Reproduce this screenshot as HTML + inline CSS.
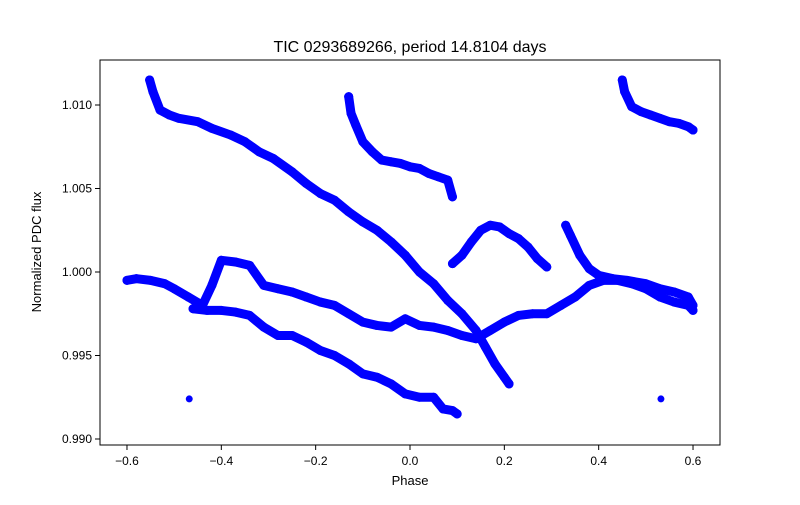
<!DOCTYPE html>
<html><head><meta charset="utf-8"><style>
body{margin:0;background:#fff}
svg text{font-family:"Liberation Sans","DejaVu Sans",sans-serif}
</style></head><body>
<svg id="chart" width="800" height="500">
<rect width="800" height="500" fill="#fff"/>
<text x="410" y="52" font-size="16" text-anchor="middle">TIC 0293689266, period 14.8104 days</text>
<g id="marks"></g>
<rect x="100" y="60" width="620" height="385" fill="none" stroke="#000" stroke-width="1"/>
<g id="axes"></g>
<text x="410" y="485" font-size="13" text-anchor="middle">Phase</text>
<text transform="translate(41,252) rotate(-90)" font-size="13" text-anchor="middle">Normalized PDC flux</text>
</svg>
<script>
const xTicks=[-0.6,-0.4,-0.2,0.0,0.2,0.4,0.6];
const xTickLabels=["−0.6","−0.4","−0.2","0.0","0.2","0.4","0.6"];
const yTicks=[0.990,0.995,1.000,1.005,1.010];
const yTickLabels=["0.990","0.995","1.000","1.005","1.010"];
const seg1Phase=[-0.552,-0.545,-0.53,-0.51,-0.49,-0.45,-0.42,-0.38,-0.35,-0.32,-0.29,-0.25,-0.22,-0.19,-0.16,-0.13,-0.1,-0.07,-0.04,-0.01,0.02,0.05,0.08,0.11,0.14,0.16,0.18,0.2,0.21];
const seg1Flux=[1.0115,1.0108,1.0097,1.0094,1.0092,1.009,1.0086,1.0082,1.0078,1.0072,1.0068,1.006,1.0053,1.0047,1.0043,1.0036,1.003,1.0025,1.0018,1.001,1.0,0.9993,0.9983,0.9975,0.9965,0.9955,0.9945,0.9937,0.9933];
const seg2Phase=[-0.13,-0.125,-0.115,-0.1,-0.08,-0.06,-0.04,-0.02,0.0,0.02,0.04,0.06,0.08,0.09];
const seg2Flux=[1.0105,1.0095,1.0088,1.0078,1.0072,1.0067,1.0066,1.0065,1.0063,1.0062,1.0059,1.0057,1.0055,1.0045];
const seg3Phase=[0.09,0.11,0.13,0.15,0.17,0.19,0.21,0.23,0.25,0.27,0.29];
const seg3Flux=[1.0005,1.001,1.0018,1.0025,1.0028,1.0027,1.0023,1.002,1.0015,1.0008,1.0003];
const seg4Phase=[0.33,0.34,0.36,0.38,0.4,0.43,0.46,0.5,0.53,0.56,0.59,0.6];
const seg4Flux=[1.0028,1.0022,1.001,1.0002,0.9998,0.9996,0.9995,0.9993,0.999,0.9988,0.9985,0.998];
const seg5Phase=[-0.6,-0.58,-0.55,-0.52,-0.5,-0.47,-0.44,-0.42,-0.4,-0.37,-0.34,-0.31,-0.28,-0.25,-0.22,-0.19,-0.16,-0.13,-0.1,-0.07,-0.04,-0.01,0.02,0.05,0.08,0.11,0.14,0.17,0.2,0.23,0.26,0.29,0.32,0.35,0.38,0.41,0.44,0.47,0.5,0.53,0.56,0.59,0.6];
const seg5Flux=[0.9995,0.9996,0.9995,0.9993,0.999,0.9985,0.998,0.9992,1.0007,1.0006,1.0004,0.9992,0.999,0.9988,0.9985,0.9982,0.998,0.9975,0.997,0.9968,0.9967,0.9972,0.9968,0.9967,0.9965,0.9962,0.996,0.9965,0.997,0.9974,0.9975,0.9975,0.998,0.9985,0.9992,0.9995,0.9995,0.9993,0.999,0.9985,0.9982,0.998,0.9977];
const seg6Phase=[-0.46,-0.43,-0.4,-0.37,-0.34,-0.31,-0.28,-0.25,-0.22,-0.19,-0.16,-0.13,-0.1,-0.07,-0.04,-0.01,0.02,0.05,0.07,0.09,0.1];
const seg6Flux=[0.9978,0.9977,0.9977,0.9976,0.9974,0.9967,0.9962,0.9962,0.9958,0.9953,0.995,0.9945,0.9939,0.9937,0.9933,0.9927,0.9925,0.9925,0.9918,0.9917,0.9915];
const seg7Phase=[0.45,0.455,0.47,0.49,0.51,0.53,0.55,0.57,0.59,0.6];
const seg7Flux=[1.0115,1.0108,1.0099,1.0096,1.0094,1.0092,1.009,1.0089,1.0087,1.0085];
const outlierPhase=[-0.468,0.532];
const outlierFlux=[0.9924,0.9924];

const X=p=>410+p*471.7;
const Y=v=>272-(v-1)*16700;
const NS="http://www.w3.org/2000/svg";
const marks=document.getElementById('marks');
const axes=document.getElementById('axes');
const segs=[[seg1Phase,seg1Flux],[seg2Phase,seg2Flux],[seg3Phase,seg3Flux],[seg4Phase,seg4Flux],[seg5Phase,seg5Flux],[seg6Phase,seg6Flux],[seg7Phase,seg7Flux]];
segs.forEach((s,i)=>{
  const pl=document.createElementNS(NS,'polyline');
  
  
  pl.setAttribute('points',s[0].map((p,j)=>X(p)+','+Y(s[1][j])).join(' '));
  pl.setAttribute('fill','none');pl.setAttribute('stroke','#0000ff');
  pl.setAttribute('stroke-width','9');pl.setAttribute('stroke-linecap','round');pl.setAttribute('stroke-linejoin','round');
  marks.appendChild(pl);
  s[0].forEach((p,j)=>{
    const c=document.createElementNS(NS,'circle');
    
    
    c.setAttribute('cx',X(p));c.setAttribute('cy',Y(s[1][j]));c.setAttribute('r','4.5');c.setAttribute('fill','#0000ff');
    marks.appendChild(c);
  });
});
outlierPhase.forEach((p,j)=>{
  const c=document.createElementNS(NS,'circle');
  
  
  c.setAttribute('cx',X(p));c.setAttribute('cy',Y(outlierFlux[j]));c.setAttribute('r','3.5');c.setAttribute('fill','#0000ff');
  marks.appendChild(c);
});
xTicks.forEach((t,i)=>{
  const l=document.createElementNS(NS,'line');
  
  
  l.setAttribute('x1',X(t));l.setAttribute('x2',X(t));l.setAttribute('y1',445);l.setAttribute('y2',450);l.setAttribute('stroke','#000');
  axes.appendChild(l);
  const tx=document.createElementNS(NS,'text');
  
  
  tx.setAttribute('x',X(t));tx.setAttribute('y',465);tx.setAttribute('font-size','12');tx.setAttribute('text-anchor','middle');
  tx.textContent=xTickLabels[i];axes.appendChild(tx);
});
yTicks.forEach((t,i)=>{
  const l=document.createElementNS(NS,'line');
  
  
  l.setAttribute('x1',95);l.setAttribute('x2',100);l.setAttribute('y1',Y(t));l.setAttribute('y2',Y(t));l.setAttribute('stroke','#000');
  axes.appendChild(l);
  const tx=document.createElementNS(NS,'text');
  
  
  tx.setAttribute('x',92);tx.setAttribute('y',Y(t)+4);tx.setAttribute('font-size','12');tx.setAttribute('text-anchor','end');
  tx.textContent=yTickLabels[i];axes.appendChild(tx);
});
</script>
</body></html>
